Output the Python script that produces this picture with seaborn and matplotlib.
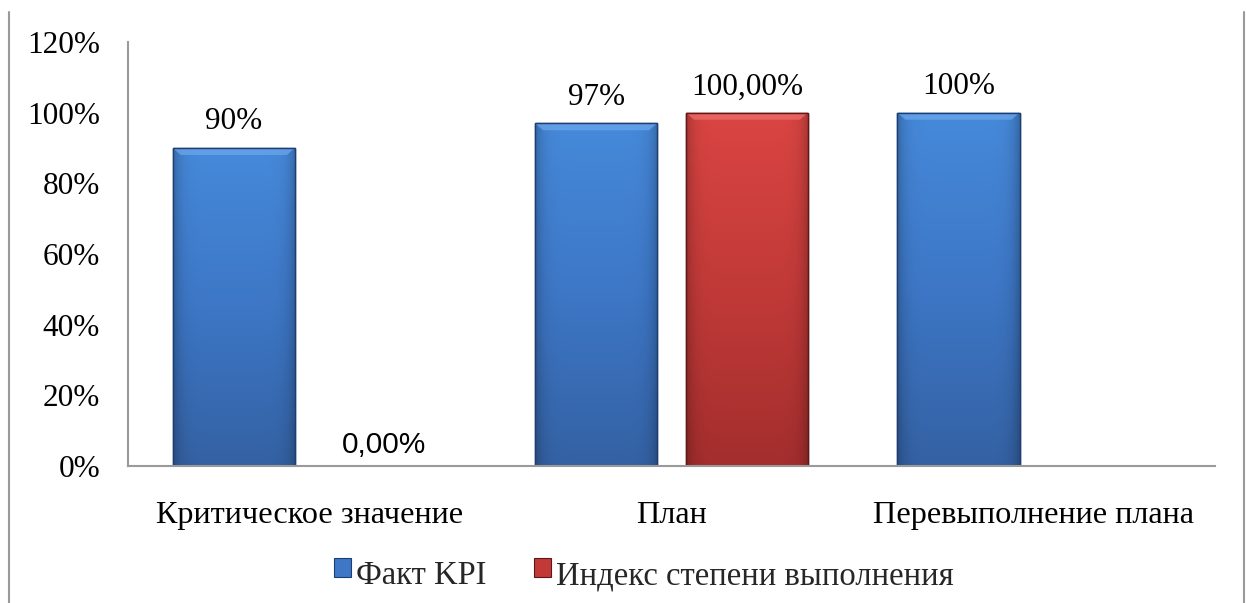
import numpy as np
import pandas as pd
import matplotlib
matplotlib.use("Agg")
import matplotlib.pyplot as plt
from matplotlib.lines import Line2D
from matplotlib.patches import Patch, Rectangle, Polygon
from matplotlib.legend_handler import HandlerPatch
from matplotlib.colors import LinearSegmentedColormap
import seaborn as sns

categories = ["Критическое значение", "План", "Перевыполнение плана"]
series_names = ["Факт KPI", "Индекс степени выполнения"]
fact_kpi = [90, 97, 100]
completion_index = [0.0, 100.0, np.nan]
y_ticks = [0, 20, 40, 60, 80, 100, 120]

sns.set_theme(style="white")
plt.rcParams["font.family"] = ["Liberation Serif", "DejaVu Serif"]

df = pd.DataFrame({
    "category": categories * 2,
    "series": [series_names[0]] * 3 + [series_names[1]] * 3,
    "value": fact_kpi + completion_index,
})

blue_top, blue_mid, blue_bot, blue_edge, blue_hi = "#4689DA", "#3D77C6", "#3461A3", "#1E3E72", "#6AA6EC"
red_top, red_mid, red_bot, red_edge, red_hi = "#DA4542", "#C13A38", "#A32E2D", "#5E1818", "#EC6E6A"

W, H = 1246, 603
fig = plt.figure(figsize=(W / 100, H / 100), dpi=100)
ax = fig.add_axes([128 / W, 1 - 466 / H, (1215 - 128) / W, (466 - 42) / H])

sns.barplot(data=df, x="category", y="value", hue="series", order=categories,
            hue_order=series_names, palette=[blue_top, red_top],
            width=0.832, gap=0.19, errorbar=None, legend=False, ax=ax)

ax.set_ylim(0, 120)
ax.set_xlim(-0.5, 2.5)

# bevel-like gradient fill clipped to every bar
styles = {
    0: (LinearSegmentedColormap.from_list("b", [blue_bot, blue_mid, blue_top]), blue_edge, blue_hi),
    1: (LinearSegmentedColormap.from_list("r", [red_bot, red_mid, red_top]), red_edge, red_hi),
}
gy = np.linspace(0, 1, 256).reshape(-1, 1)
gx = np.linspace(0, 1, 64).reshape(1, -1)
edge_shade = 1 - 0.22 * (np.abs(gx - 0.5) * 2) ** 8
px_x = 1.0 / 362.3   # data units per pixel along x
px_y = 120.0 / 424   # data units per pixel along y
for i, container in enumerate(ax.containers):
    cmap, ec, hi = styles[i]
    for patch in container:
        h = patch.get_height()
        if not np.isfinite(h) or h <= 0:
            continue
        x0, w = patch.get_x(), patch.get_width()
        z = patch.get_zorder()
        rgb = cmap(gy)[..., :3] * edge_shade[..., None]
        img = ax.imshow(rgb, extent=[x0, x0 + w, 0, h], origin="lower",
                        aspect="auto", zorder=z + 0.1, interpolation="bilinear")
        img.set_clip_path(patch)
        bev = Polygon([(x0, h), (x0 + w, h), (x0 + w - 8 * px_x, h - 7 * px_y),
                       (x0 + 8 * px_x, h - 7 * px_y)], closed=True,
                      facecolor=hi, edgecolor="none", alpha=0.75, zorder=z + 0.15)
        ax.add_patch(bev)
        patch.set_edgecolor(ec)
        ax.add_patch(Rectangle((x0, 0), w, h, fill=False, edgecolor=ec,
                               linewidth=1.0, zorder=z + 0.2))

ax.set_ylim(0, 120)
ax.set_xlim(-0.5, 2.5)

# value labels
for i, container in enumerate(ax.containers):
    vals = fact_kpi if i == 0 else completion_index
    for patch, v in zip(container, vals):
        if not np.isfinite(v):
            continue
        cx = patch.get_x() + patch.get_width() / 2
        if i == 0:
            txt, fam, off, fs = f"{v:.0f}%", ["Liberation Serif"], 13.5, 22.5
        elif v == 0:
            txt, fam, off, fs = f"{v:.2f}%".replace(".", ","), ["Liberation Sans"], 9.4, 21.5
        else:
            txt, fam, off, fs = f"{v:.2f}%".replace(".", ","), ["Liberation Serif"], 13.0, 22.5
        ax.annotate(txt, (cx, v), xytext=(0, off), textcoords="offset points",
                    ha="center", va="baseline", fontsize=fs, family=fam, color="black")

ax.set_yticks(y_ticks)
ax.set_yticklabels([f"{t}%" for t in y_ticks])
ax.set_xlabel("")
ax.set_ylabel("")
ax.tick_params(axis="y", labelsize=22.5, pad=20, length=0, colors="black")
ax.tick_params(axis="x", labelsize=23.2, pad=25, length=0, colors="black")

for s in ["top", "right"]:
    ax.spines[s].set_visible(False)
for s in ["left", "bottom"]:
    ax.spines[s].set_color("#9A9A9A")
    ax.spines[s].set_linewidth(1.5)
ax.grid(False)


def raised_square(legend, orig_handle, xdescent, ydescent, width, height, fontsize):
    return Rectangle((-xdescent, -ydescent + 3.5), width, height)


handles = [Patch(facecolor=blue_mid, edgecolor=blue_edge, linewidth=0.8),
           Patch(facecolor=red_mid, edgecolor=red_edge, linewidth=0.8)]
fig.legend(handles, series_names, loc="center", bbox_to_anchor=(644 / W, 1 - 576 / H),
           ncol=2, frameon=False, fontsize=23.5, handlelength=0.52, handleheight=0.52,
           handletextpad=0.15, columnspacing=1.45, borderaxespad=0,
           handler_map={Patch: HandlerPatch(patch_func=raised_square)})

# outer frame sides
for xpx in (9, 1244):
    fig.add_artist(Line2D([xpx / W, xpx / W], [0, 1 - 12 / H], color="#9A9A9A",
                          linewidth=1.5, transform=fig.transFigure))

fig.savefig("out.png", dpi=100)
